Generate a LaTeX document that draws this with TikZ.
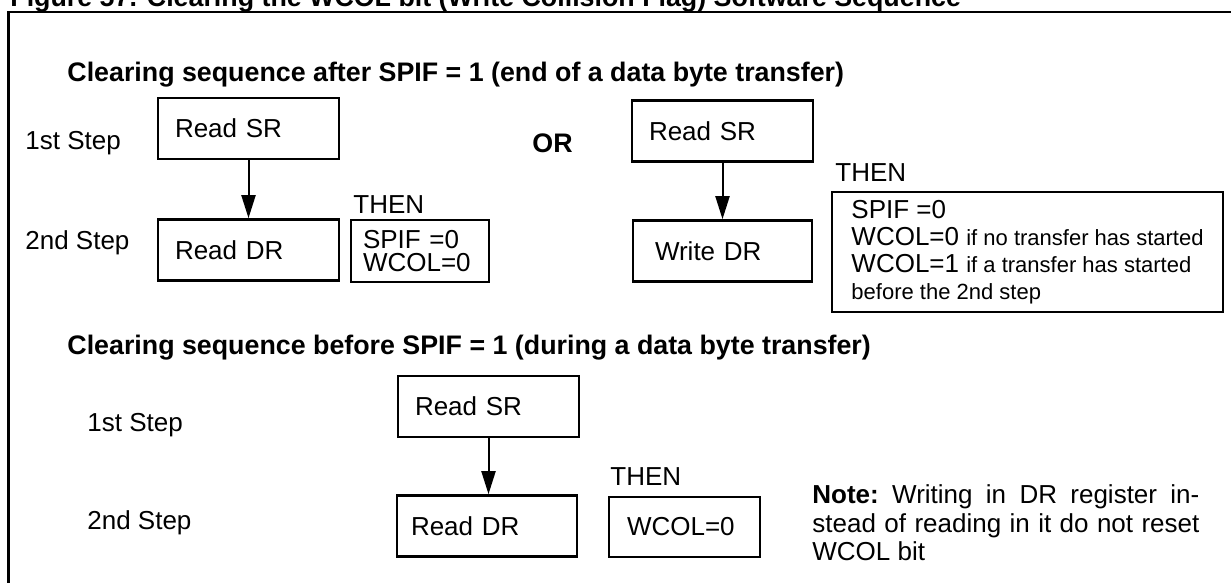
\documentclass[tikz,border=0pt]{standalone}
\usepackage{fontspec}
\setmainfont{Liberation Sans}
\usetikzlibrary{arrows.meta,positioning}
\newcommand{\bodyfont}{\fontsize{13}{14}\selectfont}
\newcommand{\smallfont}{\fontsize{11}{13.5}\selectfont}
\newcommand{\headfont}{\fontsize{13.4}{16}\selectfont\bfseries}
\tikzset{
  stepbox/.style={draw,line width=1.3pt,inner xsep=8.5pt,inner ysep=0pt,
    text width=73.5pt,minimum height=30.5pt,align=left,font=\bodyfont},
  plain/.style={inner sep=0pt,anchor=west,font=\bodyfont},
  heading/.style={inner sep=0pt,anchor=west,font=\headfont},
  flow/.style={line width=1pt,-{Triangle[length=11.5pt,width=7pt]}}
}

\begin{document}
\begin{tikzpicture}[x=0.5pt,y=-0.5pt]
\useasboundingbox (0,0) rectangle (1231,583);
\clip (0,0) rectangle (1231,583);
% caption and frame
\node[heading,anchor=base west] (caption) at (10,7) {Figure 57. Clearing the WCOL bit (Write Collision Flag) Software Sequence};
\draw[line width=1.25pt] (8.5,600) |- (1240,12);

% after SPIF = 1
\node[heading] (headA) at (67,75) {Clearing sequence after SPIF = 1 (end of a data byte transfer)};
\node[plain] (stepA1) at (25,143) {1st Step};
\node[plain] (stepA2) at (25,243) {2nd Step};
\node[stepbox] (srA) at (248.5,128.5) {Read SR};
\node[stepbox] (drA) at (248.5,250) {Read DR};
\node[plain] (thenA) at (353,205) {THEN};
\node[stepbox,inner xsep=6pt,text width=57pt,minimum height=31pt,
  font=\fontsize{13}{11.5}\selectfont] (resA) at (420,251) {SPIF =0\\WCOL=0};
\draw[flow] (srA) -- (drA);

\node[heading] (or) at (532,143) {OR};
\node[stepbox] (srB) at (722.5,131) {Read SR};
\node[stepbox,inner xsep=11pt,text width=67.5pt] (wrB) at (722.5,251) {Write DR};
\node[plain] (thenB) at (835,173) {THEN};
\node[stepbox,text width=,inner xsep=2pt,minimum width=195.5pt,minimum height=60pt,
  font=\fontsize{13}{13.5}\selectfont] (resB) at (1027.5,252)
  {SPIF =0\\WCOL=0 {\smallfont if no transfer has started}\\
   WCOL=1 {\smallfont if a transfer has started}\\
   {\smallfont before the 2nd step}};
\draw[flow] (srB) -- (wrB);

% before SPIF = 1
\node[heading] (headB) at (67,348) {Clearing sequence before SPIF = 1 (during a data byte transfer)};
\node[plain] (stepB1) at (87,425) {1st Step};
\node[plain] (stepB2) at (87,523) {2nd Step};
\node[stepbox] (srC) at (488.5,406.5) {Read SR};
\node[stepbox,inner xsep=7pt,text width=76pt] (drC) at (487,526) {Read DR};
\node[plain] (thenC) at (610,477) {THEN};
\node[stepbox,inner xsep=9pt,text width=57.5pt,minimum height=30pt] (resC) at (684.5,527) {WCOL=0};
\draw[flow] (srC) -- (srC |- drC.north);

\node[plain,align=left,font=\fontsize{13}{14.25}\selectfont\frenchspacing] (note) at (812,523)
  {\makebox[193.5pt][s]{\textbf{Note:} Writing in DR register in-}\\
   \makebox[193.5pt][s]{stead of reading in it do not reset}\\
   WCOL bit};
\end{tikzpicture}
\end{document}
